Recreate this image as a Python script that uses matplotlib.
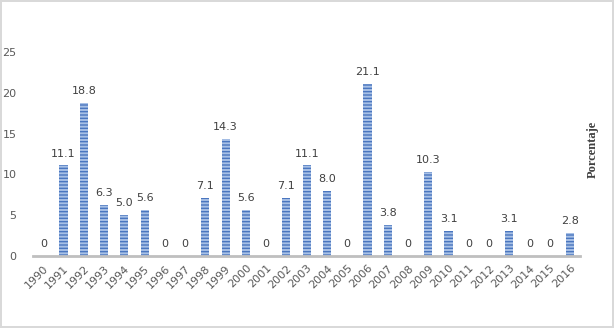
import matplotlib
matplotlib.use("Agg")
import matplotlib.pyplot as plt

years = [str(y) for y in range(1990, 2017)]
values = [0, 11.1, 18.8, 6.3, 5.0, 5.6, 0, 0, 7.1, 14.3, 5.6, 0, 7.1, 11.1, 8.0,
          0, 21.1, 3.8, 0, 10.3, 3.1, 0, 0, 3.1, 0, 0, 2.8]
labels = ["0" if v == 0 else f"{v:.1f}" for v in values]
yticks = [0, 5, 10, 15, 20, 25]

plt.rcParams['hatch.linewidth'] = 1.0
fig = plt.figure(figsize=(6.14, 3.28), dpi=100)
fig.patch.set_edgecolor('#d9d9d9')
fig.patch.set_linewidth(1.5)
ax = fig.add_axes([0.054, 0.2195, 0.891, 0.6215])

x = list(range(len(years)))
ax.bar(x, values, width=0.4, color='#a7c0e6', edgecolor='#4a76bf',
       hatch='-----', linewidth=0)
for xi, v, lab in zip(x, values, labels):
    ax.annotate(lab, (xi, v), xytext=(0, 5), textcoords='offset points',
                ha='center', va='bottom', fontsize=8, color='#404040')

ax.set_xlim(-0.5, len(years) - 0.5)
ax.set_ylim(0, 25)
ax.set_yticks(yticks)
ax.set_yticklabels([str(t) for t in yticks], fontsize=8, color='#595959')
ax.set_xticks(x)
ax.set_xticklabels(years, rotation=45, ha='right', rotation_mode='anchor',
                   fontsize=8, color='#595959')
ax.tick_params(axis='both', length=0)
ax.tick_params(axis='y', pad=12)
ax.tick_params(axis='x', pad=5)
for s in ['top', 'right', 'left']:
    ax.spines[s].set_visible(False)
ax.spines['bottom'].set_color('#bfbfbf')
ax.spines['bottom'].set_linewidth(2)

fig.text(0.965, 0.545, 'Porcentaje', rotation=90, ha='center', va='center',
         fontsize=9, fontweight='bold', family='Liberation Serif', color='#404040')

fig.savefig('out.png', dpi=100, edgecolor=fig.get_edgecolor())
